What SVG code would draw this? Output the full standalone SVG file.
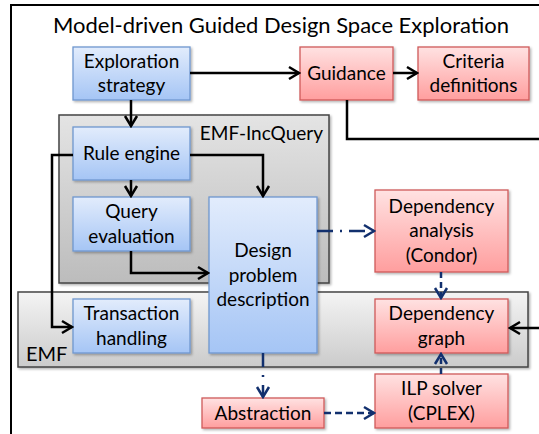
<svg xmlns="http://www.w3.org/2000/svg" width="539" height="434" viewBox="0 0 539 434">
<defs>
<linearGradient id="gb" x1="0" y1="0" x2="0" y2="1"><stop offset="0" stop-color="#e2ecfc"/><stop offset="1" stop-color="#a5c5f5"/></linearGradient>
<linearGradient id="gr" x1="0" y1="0" x2="0" y2="1"><stop offset="0" stop-color="#ffe2e2"/><stop offset="1" stop-color="#ff9e9e"/></linearGradient>
<linearGradient id="gg1" x1="0" y1="0" x2="0" y2="1"><stop offset="0" stop-color="#e4e4e4"/><stop offset="1" stop-color="#bcbcbc"/></linearGradient>
<linearGradient id="gg2" x1="0" y1="0" x2="0" y2="1"><stop offset="0" stop-color="#f4f4f4"/><stop offset="1" stop-color="#cbcbcb"/></linearGradient>
<filter id="sh" x="-10%" y="-10%" width="130%" height="130%"><feDropShadow dx="1.5" dy="1.5" stdDeviation="1" flood-color="#000" flood-opacity="0.3"/></filter>
<marker id="ak" markerUnits="userSpaceOnUse" markerWidth="14" markerHeight="16" viewBox="0 0 14 16" refX="12" refY="8" orient="auto"><path d="M2,2 L12,8 L2,14" fill="none" stroke="#000" stroke-width="2.5"/></marker>
<marker id="an" markerUnits="userSpaceOnUse" markerWidth="14" markerHeight="16" viewBox="0 0 14 16" refX="12" refY="8" orient="auto"><path d="M2,2 L12,8 L2,14" fill="none" stroke="#12306e" stroke-width="2.5"/></marker>
</defs>
<style>
.t{font-family:Lato,"Open Sans","Liberation Sans",sans-serif;font-size:19px;fill:#000;text-anchor:middle}
.b{fill:url(#gb);stroke:#6f97cf;stroke-width:1.3;filter:url(#sh)}
.r{fill:url(#gr);stroke:#cf5a5a;stroke-width:1.3;filter:url(#sh)}
.k{fill:none;stroke:#000;stroke-width:2.5;marker-end:url(#ak)}
.n{fill:none;stroke:#12306e;stroke-width:2.5;marker-end:url(#an)}
</style>
<rect x="11" y="5" width="540" height="440" fill="#fff" stroke="#000" stroke-width="2"/>
<text x="281" y="33" class="t" style="font-size:21px" textLength="456" lengthAdjust="spacingAndGlyphs">Model-driven Guided Design Space Exploration</text>

<g id="emf-incquery">
<rect x="59" y="115" width="270" height="168" fill="url(#gg1)" stroke="#444" stroke-width="1.5" filter="url(#sh)"/>
<text x="323" y="140" class="t" style="text-anchor:end">EMF-IncQuery</text>
</g>
<g id="emf">
<rect x="18" y="292" width="510" height="75" fill="url(#gg2)" stroke="#444" stroke-width="1.5" filter="url(#sh)"/>
<text x="26" y="361" class="t" style="text-anchor:start;font-size:20px">EMF</text>
</g>

<g id="exploration-strategy"><rect x="73" y="47" width="117" height="53" class="b"/><text x="131.5" y="68" class="t">Exploration</text><text x="131.5" y="92" class="t">strategy</text></g>
<g id="guidance"><rect x="300" y="47" width="93" height="53" class="r"/><text x="346.5" y="80" class="t">Guidance</text></g>
<g id="criteria-definitions"><rect x="418" y="47" width="111" height="53" class="r"/><text x="473.5" y="68" class="t">Criteria</text><text x="473.5" y="92" class="t">definitions</text></g>
<g id="rule-engine"><rect x="73" y="127" width="117" height="53" class="b"/><text x="131.5" y="160" class="t">Rule engine</text></g>
<g id="query-evaluation"><rect x="73" y="197" width="117" height="54" class="b"/><text x="131.5" y="218" class="t">Query</text><text x="131.5" y="243" class="t">evaluation</text></g>
<g id="design-problem-description"><rect x="209" y="197" width="108" height="156" class="b"/><text x="263" y="257" class="t">Design</text><text x="263" y="282" class="t">problem</text><text x="263" y="306" class="t">description</text></g>
<g id="transaction-handling"><rect x="73" y="299" width="117" height="54" class="b"/><text x="131.5" y="320" class="t">Transaction</text><text x="131.5" y="345" class="t">handling</text></g>
<g id="dependency-analysis"><rect x="375" y="190" width="133" height="82" class="r"/><text x="441.5" y="213" class="t">Dependency</text><text x="441.5" y="237" class="t">analysis</text><text x="441.5" y="262" class="t">(Condor)</text></g>
<g id="dependency-graph"><rect x="375" y="299" width="133" height="54" class="r"/><text x="441.5" y="320" class="t">Dependency</text><text x="441.5" y="345" class="t">graph</text></g>
<g id="ilp-solver"><rect x="375" y="374" width="133" height="54" class="r"/><text x="441.5" y="395" class="t">ILP solver</text><text x="441.5" y="420" class="t">(CPLEX)</text></g>
<g id="abstraction"><rect x="202" y="398" width="122" height="30" class="r"/><text x="263" y="420" class="t">Abstraction</text></g>

<g id="connectors">
<path d="M190,73 H299" class="k"/>
<path d="M393,73 H417" class="k"/>
<path d="M347,100 V139 H545 V328 H510" class="k"/>
<path d="M131,100 V126" class="k"/>
<path d="M131,180 V196" class="k"/>
<path d="M190,155 H263 V196" class="k"/>
<path d="M131,251 V273 H208" class="k"/>
<path d="M73,155 H52 V327 H72" class="k"/>
<path d="M317,231 H374" class="n" stroke-dasharray="16,7,2,7"/>
<path d="M441,272 V298" class="n" stroke-dasharray="6,4"/>
<path d="M441,374 V354" class="n" stroke-dasharray="6,4"/>
<path d="M263,353 V397" class="n" stroke-dasharray="14,8,2,8"/>
<path d="M324,413 H374" class="n" stroke-dasharray="7,4"/>
</g>
</svg>
